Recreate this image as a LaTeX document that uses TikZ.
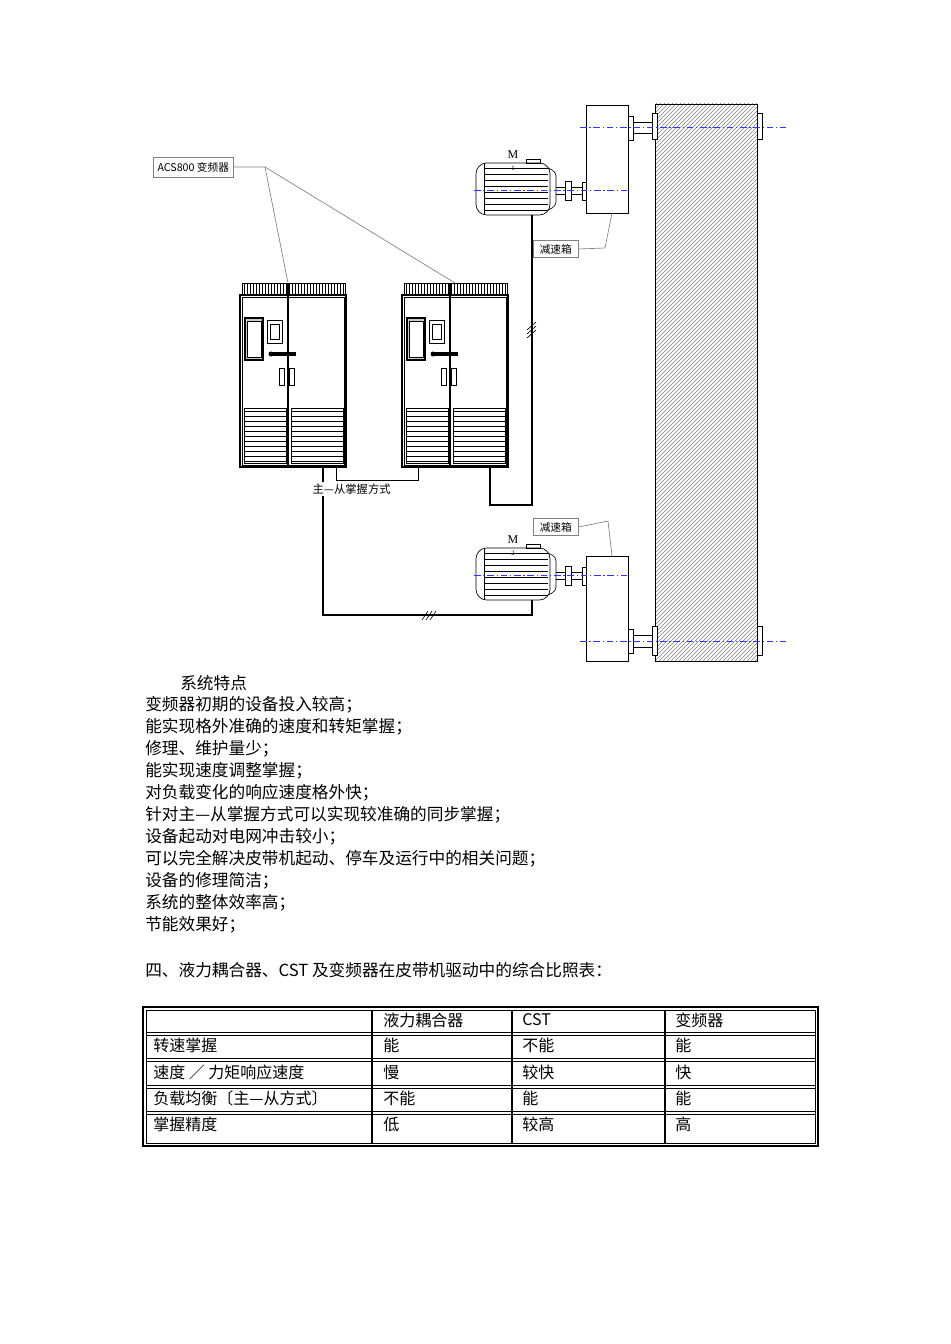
\documentclass[tikz,border=0pt]{standalone}
\usepackage{fontspec}
\setmainfont{Liberation Serif}
\newfontfamily\cjk{Noto Sans CJK SC}
\usetikzlibrary{patterns}
\tikzset{
 wire/.style={line width=1.2pt},
 thin/.style={line width=0.5pt},
 lead/.style={gray,line width=0.5pt},
 axis/.style={blue!80,dash pattern=on 5pt off 2pt on 1pt off 2pt,line width=0.6pt},
 txt/.style={anchor=west,inner sep=0pt,font=\cjk\fontsize{12.5pt}{14pt}\selectfont},
 lbl/.style={anchor=west,inner sep=1pt,font=\cjk\fontsize{8pt}{9pt}\selectfont},
 cell/.style={anchor=west,inner sep=0pt,font=\cjk\fontsize{12pt}{14pt}\selectfont}
}
\newcommand{\mycab}[1]{%
 \begin{scope}[xshift=#1*0.75pt]
  \draw[thin] (242,283) rectangle (345,295);
  \foreach \i in {0,...,33} \draw[line width=0.3pt] (244+3*\i,284) -- (244+3*\i,295);
  \draw[line width=0.8pt] (240,295) rectangle (346,467);
  \draw[thin] (242,297) rectangle (344,465);
  \draw[line width=1pt] (288,283) -- (288,465);
  \draw[line width=1pt,fill=gray!40] (245,318) rectangle (263,360);
  \draw[fill=white,thin] (247,321) rectangle (261,357);
  \draw[thin] (267,320) rectangle (282,343);
  \draw[thin] (270,324) rectangle (279,339);
  \draw[line width=2.5pt] (271,354) -- (296,354);
  \fill (271,354) circle (2.5);
  \draw[thin] (279,368) rectangle (284,385);
  \draw[thin] (289,368) rectangle (294,385);
  \draw[thin] (244,408) rectangle (286,463);
  \draw[thin] (291,408) rectangle (343,463);
  \foreach \j in {0,...,10} {\draw[line width=0.35pt] (244,411+5*\j) -- (286,411+5*\j);
    \draw[line width=0.35pt] (291,411+5*\j) -- (343,411+5*\j);}
 \end{scope}}
\newcommand{\mymotor}[2]{%
 \begin{scope}[yshift=-#1*0.75pt]
  \draw[thin,rounded corners=8pt] (476,163) rectangle (550,215);
  \foreach \j in {0,...,7} \draw[line width=0.4pt] (484,168+6*\j) -- (548,168+6*\j);
  \draw[thin] (484,163) -- (484,215);
  \draw[thin,rounded corners=3pt] (548,168) -- (556,172) -- (556,206) -- (548,210);
  \draw[thin] (526,159) rectangle (540,163);
  \draw[thin] (556,187) -- (565,187) (556,194) -- (565,194);
  \draw[thin] (565,181) rectangle (571,200);
  \draw[thin] (571,187) -- (582,187) (571,194) -- (582,194);
  \draw[thin] (582,182) rectangle (586,200);
  \node[font=\fontsize{9pt}{9pt}\selectfont,inner sep=0pt] at (513,155) {M};
  \node[font=\fontsize{5pt}{5pt}\selectfont,inner sep=0pt] at (513,168) {#2};
 \end{scope}}
\begin{document}
\begin{tikzpicture}[x=0.75pt,y=-0.75pt]
\useasboundingbox (0,0) rectangle (950,1344);
% belt
\draw[thin,pattern=north east lines,pattern color=gray] (655,104) rectangle (757,661);
\node (belt) at (706,380) {};
% top pulley
\draw[thin,fill=white] (652,113) rectangle (657,139);
\draw[thin,fill=white] (757,113) rectangle (762,139);
\draw[thin] (633,122) -- (652,122) (633,133) -- (652,133);
\draw[thin] (628,116) rectangle (633,140);
\draw[thin] (586,105) rectangle (628,213);
% bottom pulley
\draw[thin,fill=white] (652,626) rectangle (657,655);
\draw[thin,fill=white] (757,626) rectangle (762,655);
\draw[thin] (633,635) -- (652,635) (633,647) -- (652,647);
\draw[thin] (628,629) rectangle (633,653);
\draw[thin] (586,556) rectangle (628,661);
% motors
\mymotor{0}{1}
\mymotor{385}{2}
% axes
\draw[axis] (580,127) -- (786,127);
\draw[axis] (474,190) -- (630,190);
\draw[axis] (474,575) -- (630,575);
\draw[axis] (580,641) -- (786,641);
% cabinets
\mycab{0}
\mycab{162}
% labels
\node[lbl,draw=gray,line width=0.4pt,minimum width=80*0.75pt,minimum height=20*0.75pt] (acs) at (153,167) {ACS800 变频器};
\coordinate (acsj) at (265,167);
\draw[lead] (acs.east) -- (acsj) -- (288,283);
\draw[lead] (acsj) -- (455,283);
\node[lbl,draw=gray,line width=0.4pt,minimum width=45*0.75pt,minimum height=17*0.75pt] (g1) at (533,249) {减速箱};
\draw[lead] (g1.east) -- (605,248) -- (612,213);
\node[lbl,draw=gray,line width=0.4pt,minimum width=45*0.75pt,minimum height=17*0.75pt] (g2) at (533,527) {减速箱};
\draw[lead] (g2.east) -- (608,521) -- (612,556);
% wires
\draw[wire] (532,215) -- (532,505) -- (490,505) -- (490,467);
\draw[thin] (527,334) -- (536,326) (527,330) -- (536,322) (527,338) -- (536,330);
\draw[wire] (323,467) -- (323,615) -- (532,615) -- (532,600);
\draw[thin] (422,620) -- (428,611) (426,620) -- (432,611) (430,620) -- (436,611);
\draw[thin] (336,467) -- (336,480) -- (418,480) -- (418,467);
\node[lbl,fill=white,font=\cjk\fontsize{8.5pt}{9pt}\selectfont] (ms) at (311,489) {主—从掌握方式};
% text
\node[txt] (t0) at (180,683) {系统特点};
\foreach \s [count=\i] in {变频器初期的设备投入较高；,能实现格外准确的速度和转矩掌握；,修理、维护量少；,能实现速度调整掌握；,对负载变化的响应速度格外快；,针对主—从掌握方式可以实现较准确的同步掌握；,设备起动对电网冲击较小；,可以完全解决皮带机起动、停车及运行中的相关问题；,设备的修理简洁；,系统的整体效率高；,节能效果好；}
  \node[txt] (l\i) at (145,683+22*\i) {\s};
\node[txt] (t4) at (145,970) {四、液力耦合器、CST 及变频器在皮带机驱动中的综合比照表：};
% table
\draw[line width=1pt] (143,1007) rectangle (818,1146);
\draw[line width=0.5pt] (146,1010) rectangle (815,1143);
\foreach \y in {1034,1060,1087,1113} \draw[line width=0.7pt] (146,\y-1.5) -- (815,\y-1.5) (146,\y+1.5) -- (815,\y+1.5);
\foreach \x in {372,512,665} \draw[line width=0.8pt] (\x,1010) -- (\x,1143);
\foreach \r/\a/\b/\c/\d [count=\k] in {1020/{}/液力耦合器/CST/变频器, 1045/转速掌握/能/不能/能, 1072/{速度 ／ 力矩响应速度}/慢/较快/快, 1098/负载均衡〔主—从方式〕/不能/能/能, 1124/掌握精度/低/较高/高} {
  \node[cell] (ca\k) at (153,\r) {\a};
  \node[cell] (cb\k) at (383,\r) {\b};
  \node[cell] (cc\k) at (522,\r) {\c};
  \node[cell] (cd\k) at (675,\r) {\d};
}
\end{tikzpicture}
\end{document}
